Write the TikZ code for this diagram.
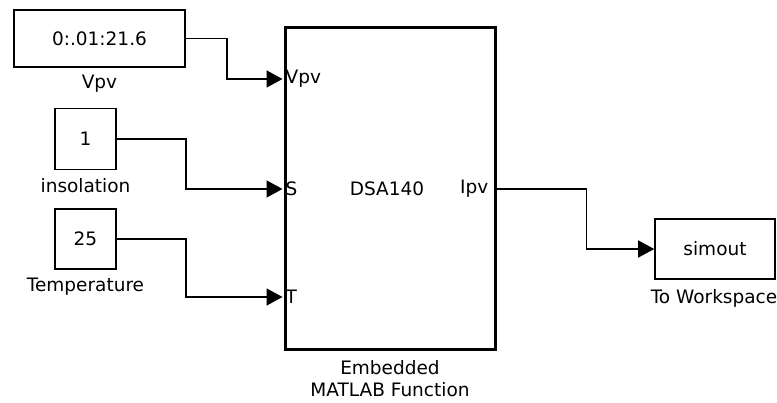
\documentclass[tikz,border=0pt]{standalone}
\usepackage{fontspec}
\setmainfont{DejaVu Sans}
\usetikzlibrary{arrows.meta, positioning, calc}

\begin{document}
\begin{tikzpicture}[
  x=1pt, y=-1pt,
  >={Triangle[length=16pt, width=17pt]},
  every node/.style={text=black, font=\fontsize{18.5}{22}\selectfont},
  blk/.style={draw=black, line width=1.6pt, fill=white, inner sep=0pt},
  sig/.style={draw=black, line width=1.6pt, ->},
]

% Canvas
\useasboundingbox (0,0) rectangle (777,403);

% Source blocks
\node[blk, minimum width=171pt, minimum height=57pt] (vpv) at (99.5,38.5) {0:.01:21.6};
\node (vpvlbl) at (99.5,84) {Vpv};

\node[blk, minimum width=61pt, minimum height=61pt] (ins) at (85.5,139) {1};
\node (inslbl) at (85.5,186) {insolation};

\node[blk, minimum width=61pt, minimum height=60pt] (temp) at (85.5,239) {25};
\node (templbl) at (85.5,287) {Temperature};

% Embedded MATLAB Function block
\node[blk, line width=3pt, minimum width=210pt, minimum height=322pt] (fcn) at (390,189) {};
\node[anchor=west, inner sep=1pt] (pvpv) at ($(fcn.west)+(1,-110)$) {Vpv};
\node[anchor=west, inner sep=1pt] (ps) at ($(fcn.west)+(1,0)$) {S};
\node[anchor=west, inner sep=1pt] (pt) at ($(fcn.west)+(1,108)$) {T};
\node (dsa) at (387,189) {DSA140};
\node[anchor=east, inner sep=1pt] (pipv) at ($(fcn.east)+(-7,0)$) {Ipv};
\node[align=center] (fcnlbl) at (390,379) {Embedded\\MATLAB Function};

% Input ports
\coordinate (inV) at ($(fcn.west)+(-1,-110)$);
\coordinate (inS) at ($(fcn.west)+(-1,0)$);
\coordinate (inT) at ($(fcn.west)+(-1,108)$);

% To Workspace block
\node[blk, minimum width=120pt, minimum height=60pt] (sim) at (715,249) {simout};
\node (simlbl) at (714,298) {To Workspace};

% Signal lines
\draw[sig] (vpv.east) -- ++(41,0) |- (inV);
\draw[sig] (ins.east) -- ++(69,0) |- (inS);
\draw[sig] (temp.east) -- ++(69,0) |- (inT);
\draw[sig] (fcn.east) -- ++(90,0) |- (sim.west);

\end{tikzpicture}
\end{document}
